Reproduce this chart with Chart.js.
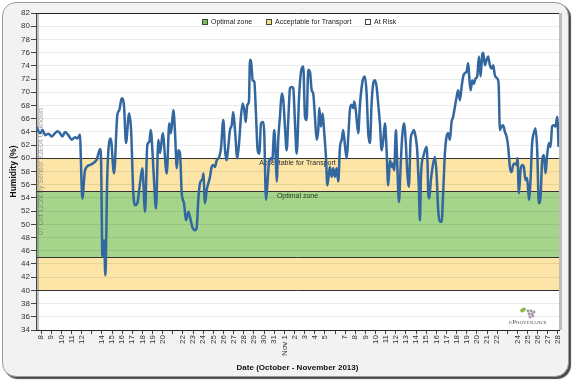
<!DOCTYPE html>
<html><head><meta charset="utf-8">
<script src="https://cdn.jsdelivr.net/npm/chart.js@4.4.1/dist/chart.umd.min.js"></script>
<style>
html,body{margin:0;padding:0;background:#fff;}
#wrap{position:relative;width:573px;height:382px;overflow:hidden;}
#panel{position:absolute;left:2px;top:2px;width:565px;height:373px;border:1px solid #9a9a9a;border-radius:14px;background:#f2f2f2;box-shadow:2px 2px 1px #4a4a4a;}
canvas{position:absolute;left:0;top:0;}
</style></head>
<body><div id="wrap"><div id="panel"></div><canvas id="c" width="573" height="382"></canvas></div>
<script>
// Day number (1 = 1 Oct 2013, 32 = 1 Nov 2013)
const dayOffsets = [7.51,7.90,8.17,8.39,8.72,9.06,9.38,9.61,9.87,10.10,10.37,10.69,11.03,11.35,11.58,11.85,11.92,12.07,12.34,12.83,13.49,13.82,13.92,14.05,14.22,14.34,14.54,14.87,15.20,15.52,15.72,15.96,16.19,16.38,16.68,16.88,17.10,17.27,17.50,17.76,17.99,18.26,18.48,18.68,18.82,19.02,19.14,19.34,19.57,19.74,20.00,20.40,20.65,20.82,21.05,21.22,21.39,21.54,21.71,21.88,22.10,22.30,22.53,22.69,22.92,23.19,23.36,23.51,23.68,23.95,24.01,24.17,24.34,24.50,24.67,24.83,24.99,25.16,25.33,25.58,25.75,25.98,26.15,26.31,26.47,26.64,26.81,26.96,27.13,27.36,27.56,27.72,27.89,28.05,28.19,28.35,28.51,28.61,28.71,28.88,29.04,29.20,29.37,29.53,29.70,29.92,30.02,30.19,30.36,30.51,30.68,30.81,31.01,31.15,31.25,31.40,31.57,31.74,31.90,32.06,32.23,32.39,32.56,32.72,32.88,33.05,33.22,33.47,33.71,33.87,34.04,34.20,34.36,34.53,34.70,34.85,35.02,35.19,35.35,35.45,35.61,35.78,35.94,36.11,36.24,36.40,36.50,36.67,36.83,36.99,37.16,37.32,37.49,37.66,37.81,37.98,38.15,38.31,38.47,38.64,38.80,38.90,39.07,39.29,39.46,39.63,39.79,39.95,40.12,40.28,40.45,40.61,40.77,40.94,41.11,41.26,41.43,41.60,41.76,41.93,42.09,42.25,42.42,42.59,42.68,42.84,43.01,43.14,43.31,43.47,43.63,43.80,43.97,44.12,44.29,44.46,44.62,44.79,44.95,45.11,45.28,45.38,45.48,45.60,45.70,45.87,46.04,46.14,46.20,46.30,46.46,46.63,46.86,47.02,47.18,47.35,47.52,47.67,47.84,48.01,48.17,48.34,48.50,48.66,48.83,49.00,49.15,49.32,49.49,49.65,49.82,49.98,50.14,50.24,50.38,50.54,50.70,50.87,51.03,51.20,51.36,51.52,51.62,51.79,51.96,52.11,52.28,52.45,52.61,52.77,53.00,53.14,53.27,53.43,53.59,53.76,53.93,54.09,54.25,54.42,54.58,54.75,54.92,55.01,55.14,55.31,55.47,55.63,55.80,55.96,56.13,56.29,56.45,56.61,56.79,56.95,57.11,57.28,57.44,57.61,57.77,57.93,58.10,58.27,58.42,58.59,58.76,58.92,59.06];
const humidity = [64.8,63.8,64.3,63.5,63.7,63.3,63.8,64.1,63.8,63.3,64.0,63.5,62.8,63.2,63.0,63.6,60.2,53.9,58.2,59.0,59.8,61.4,59.7,45.1,47.6,42.3,57.7,63.0,57.7,66.5,67.3,69.1,67.8,62.3,66.8,64.3,54.7,52.9,53.2,56.2,58.5,51.9,62.0,62.5,64.3,60.2,56.7,52.4,62.8,60.8,63.8,57.7,65.3,63.8,67.3,63.8,58.5,61.2,60.7,54.7,53.2,50.6,51.9,51.1,49.6,49.1,49.6,53.7,56.2,57.0,57.7,53.2,55.2,56.2,57.2,58.7,59.0,58.7,59.7,60.2,61.5,65.8,61.2,59.7,61.7,64.3,65.0,67.0,64.3,60.0,62.8,66.3,68.3,67.3,65.5,68.1,68.6,74.9,74.9,71.8,71.6,66.8,61.2,60.7,65.3,65.5,63.8,53.7,56.7,59.7,60.0,59.7,64.3,60.2,56.5,62.8,66.3,69.8,68.8,64.8,61.2,65.8,70.6,70.8,70.6,65.5,60.7,69.8,73.6,73.9,66.3,65.8,73.4,73.1,70.3,69.8,66.3,62.8,64.3,67.6,64.8,66.8,63.8,60.2,55.9,57.7,58.7,57.2,58.5,57.2,58.5,56.5,61.7,62.8,64.3,62.0,60.0,63.3,67.3,68.1,67.6,68.6,67.0,63.8,68.1,70.8,72.1,72.4,69.8,63.8,62.3,68.3,71.3,71.8,70.8,68.3,65.3,61.2,62.8,65.3,61.2,55.9,59.7,58.7,59.2,58.2,64.3,59.2,53.4,58.7,63.3,65.3,62.8,58.2,55.7,62.8,63.8,64.3,63.3,61.2,55.2,50.6,57.2,59.7,60.2,61.2,61.7,58.7,54.7,53.9,56.7,58.7,60.2,57.7,52.2,50.4,50.4,54.7,60.7,63.3,63.8,62.8,65.5,66.3,67.8,69.3,70.3,68.8,70.8,72.4,72.9,73.1,74.4,72.4,70.3,71.8,71.3,72.1,72.4,75.4,72.4,75.6,76.0,74.1,74.9,75.4,74.1,73.6,74.1,72.6,72.1,71.3,64.3,64.8,65.0,64.0,63.3,61.7,58.7,57.9,59.0,59.2,59.0,60.0,54.7,58.2,59.0,58.7,56.7,57.0,53.7,56.7,62.3,63.8,64.5,61.2,53.2,54.2,59.7,60.5,57.7,60.5,62.3,61.7,64.8,65.0,64.8,66.3,61.7];

const tickDays = [8,9,10,11,12,13,14,15,16,17,18,19,20,21,22,23,24,25,26,27,28,29,30,31,32,33,34,35,36,37,38,39,40,41,42,43,44,45,46,47,48,49,50,51,52,53,54,55,56,57,58,59];
const tickLabels = ['8','9','10','11','12','','14','15','16','17','18','19','20','','22','23','24','25','26','27','28','29','30','31','Nov 1','2','3','4','5','','7','8','9','10','11','12','13','14','15','16','17','18','19','20','21','22','','24','25','26','27','28'];

const yMin = 34, yMax = 82, yStep = 2;
const xMin = 7.5, xMax = 59.1;
const optimalZone = [45, 55];
const acceptableZones = [[40, 45], [55, 60]];
const zoneLines = [40, 45, 55, 60];
const legendNames = ['Optimal zone', 'Acceptable for Transport', 'At Risk'];
const zoneLabelAcceptable = 'Acceptable for Transport';
const zoneLabelOptimal = 'Optimal zone';
const yTitle = 'Humidity (%)';
const xTitle = 'Date (October - November 2013)';
const watermark = '07 Oct 12:28 by Sensor 32E04 Unknown';
const logoText = 'eProvenance';

const FONT = '"Liberation Sans", Arial, sans-serif';
const YELLOW = '#fce5a6';
const GREEN = '#a5d48b';

const zonePlugin = {
  id: 'zones',
  beforeDraw(chart) {
    const {ctx, chartArea: a, scales: {y}} = chart;
    ctx.save();
    ctx.fillStyle = '#ffffff';
    ctx.fillRect(a.left, a.top, a.right - a.left, a.bottom - a.top);
    ctx.fillStyle = YELLOW;
    acceptableZones.forEach(([lo, hi]) => {
      const t = y.getPixelForValue(hi), b = y.getPixelForValue(lo);
      ctx.fillRect(a.left, t, a.right - a.left, b - t);
    });
    ctx.fillStyle = GREEN;
    {
      const t = y.getPixelForValue(optimalZone[1]), b = y.getPixelForValue(optimalZone[0]);
      ctx.fillRect(a.left, t, a.right - a.left, b - t);
    }
    ctx.restore();
  },
  beforeDatasetsDraw(chart) {
    const {ctx, chartArea: a, scales: {y}} = chart;
    ctx.save();
    // left gray strip
    ctx.fillStyle = 'rgba(120,120,120,0.45)';
    ctx.fillRect(a.left, a.top, 3, a.bottom - a.top);
    ctx.strokeStyle = '#333';
    ctx.lineWidth = 1;
    zoneLines.forEach(v => {
      const py = Math.round(y.getPixelForValue(v)) + 0.5;
      ctx.beginPath(); ctx.moveTo(a.left, py); ctx.lineTo(a.right, py); ctx.stroke();
    });
    const cx = (a.left + a.right) / 2;
    ctx.font = '7px ' + FONT;
    ctx.textAlign = 'center';
    ctx.textBaseline = 'middle';
    ctx.fillStyle = '#2a2a2a';
    ctx.fillText(zoneLabelAcceptable, cx, y.getPixelForValue(60) + 5);
    ctx.fillStyle = '#1e3a1e';
    ctx.fillText(zoneLabelOptimal, cx, y.getPixelForValue(55) + 4.5);
    // watermark
    ctx.translate(a.left + 5, 235);
    ctx.rotate(-Math.PI / 2);
    ctx.textAlign = 'left';
    ctx.font = '7px ' + FONT;
    ctx.fillStyle = 'rgba(90,100,90,0.6)';
    ctx.fillText(watermark, 0, 0);
    ctx.restore();
  },
  afterDraw(chart) {
    const {ctx, chartArea: a} = chart;
    ctx.save();
    // top border and right strip
    ctx.strokeStyle = '#222';
    ctx.lineWidth = 1;
    ctx.beginPath(); ctx.moveTo(a.left, Math.round(a.top) + 0.5); ctx.lineTo(a.right, Math.round(a.top) + 0.5); ctx.stroke();
    ctx.fillStyle = '#bdbdbd';
    ctx.fillRect(a.right, a.top, 3, a.bottom - a.top);
    // legend
    const items = [
      {x: 202, fill: '#74c04c'},
      {x: 266, fill: '#f5e07a'},
      {x: 365, fill: '#ffffff'}
    ];
    ctx.font = '7px ' + FONT;
    ctx.textAlign = 'left';
    ctx.textBaseline = 'middle';
    items.forEach((it, i) => {
      ctx.fillStyle = it.fill;
      ctx.fillRect(it.x, 19, 6, 6);
      ctx.strokeStyle = '#444';
      ctx.strokeRect(it.x + 0.5, 19.5, 5, 5);
      ctx.fillStyle = '#222';
      ctx.fillText(legendNames[i], it.x + 9, 22);
    });
    // logo
    const lx = 528, ly = 322;
    ctx.fillStyle = '#8dbb4c';
    ctx.beginPath(); ctx.ellipse(523, 310, 3, 2, -0.5, 0, Math.PI * 2); ctx.fill();
    ctx.fillStyle = '#a393a8';
    [[528,311],[531,311],[534,312],[529,314],[532,314],[530,317],[533,316]].forEach(([px,py]) => {
      ctx.beginPath(); ctx.arc(px, py, 1.4, 0, Math.PI * 2); ctx.fill();
    });
    ctx.fillStyle = '#5e4e62';
    ctx.font = 'small-caps 7px "Liberation Serif", serif';
    ctx.textAlign = 'center';
    ctx.fillText(logoText, lx, ly);
    ctx.restore();
  }
};

new Chart(document.getElementById('c'), {
  type: 'line',
  data: {
    datasets: [{
      data: dayOffsets.map((d, i) => ({x: d, y: humidity[i]})),
      borderColor: '#33679f',
      borderWidth: 2.5,
      pointRadius: 0,
      cubicInterpolationMode: 'monotone',
      fill: false
    }]
  },
  options: {
    responsive: false,
    animation: false,
    devicePixelRatio: 1,
    layout: {padding: {top: 13, right: 14, left: 0, bottom: 0}},
    plugins: {legend: {display: false}, tooltip: {enabled: false}},
    scales: {
      x: {
        type: 'linear', min: xMin, max: xMax,
        afterBuildTicks(s) { s.ticks = tickDays.map(v => ({value: v})); },
        afterFit(s) { s.height = 52; },
        ticks: {
          autoSkip: false, minRotation: 90, maxRotation: 90, padding: 1,
          font: {family: FONT, size: 8}, color: '#333',
          callback: (v) => { const i = tickDays.indexOf(v); return i >= 0 ? tickLabels[i] : ''; }
        },
        grid: {drawOnChartArea: false, tickLength: 4, tickColor: '#444'},
        border: {color: '#222', width: 1},
        title: {display: true, text: xTitle, color: '#111', font: {family: FONT, size: 8, weight: 'bold'}, padding: {top: 0, bottom: 9}}
      },
      y: {
        min: yMin, max: yMax,
        afterFit(s) { s.width = 36; },
        ticks: {stepSize: yStep, padding: 1, font: {family: FONT, size: 8}, color: '#333'},
        grid: {color: 'rgba(0,0,0,0.08)', tickLength: 5, tickColor: '#444'},
        border: {color: '#222', width: 1},
        title: {display: true, text: yTitle, color: '#111', font: {family: FONT, size: 8.5, weight: 'bold'}, padding: {top: 8.5, bottom: 0}}
      }
    }
  },
  plugins: [zonePlugin]
});
</script>
</body></html>
